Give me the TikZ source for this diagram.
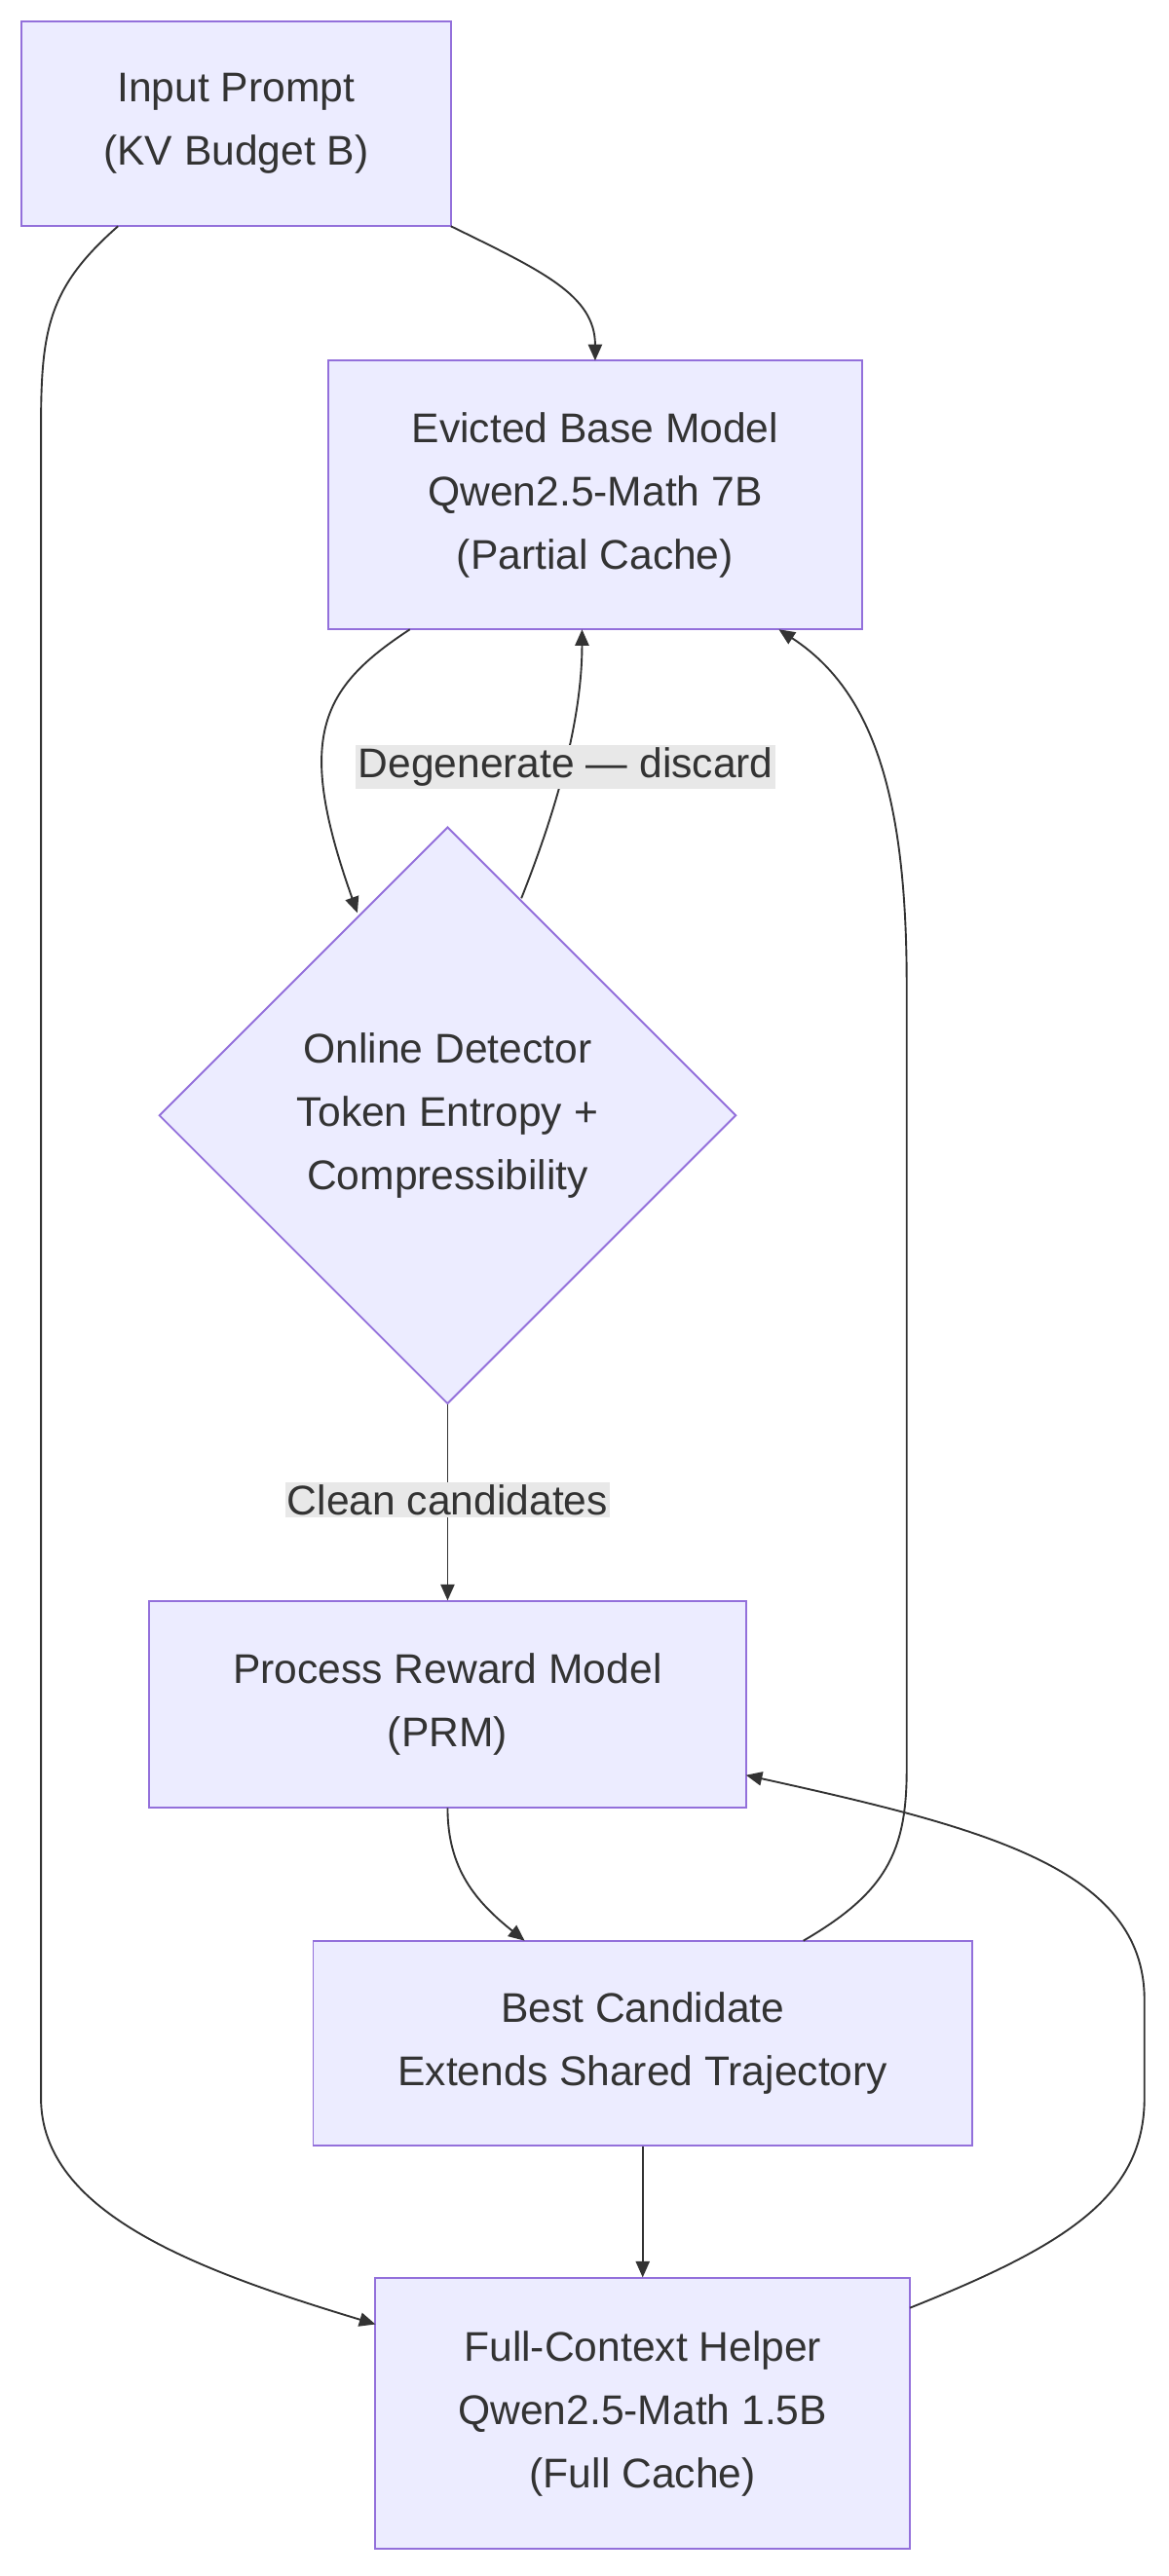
\documentclass[tikz,border=0pt]{standalone}
\usepackage{fontspec}
\setmainfont{Liberation Sans}
\usetikzlibrary{shapes.geometric,arrows.meta}
\definecolor{nfill}{HTML}{ECECFF}
\definecolor{nbord}{HTML}{9370DB}
\definecolor{ln}{HTML}{333333}
\definecolor{lbg}{HTML}{E8E8E8}
\begin{document}
\begin{tikzpicture}[x=0.05cm,y=-0.05cm,
  every node/.style={font=\fontsize{36}{55}\selectfont,text=ln,align=center},
  box/.style={draw=nbord,fill=nfill,line width=1.6pt,inner sep=0pt},
  dia/.style={diamond,draw=nbord,fill=nfill,line width=1.6pt,inner sep=0pt,minimum width=352*0.05cm,minimum height=352*0.05cm},
  lbl/.style={fill=lbg,inner sep=2pt},
  arr/.style={draw=ln,line width=1.6pt,-{Triangle[length=14pt,width=12pt]}}]
\useasboundingbox (0,0) rectangle (713,1571.6);
\node[box,minimum width=262*0.05cm,minimum height=125*0.05cm] (inp) at (144,75.5) {Input Prompt\\(KV Budget B)};
\node[box,minimum width=326*0.05cm,minimum height=164*0.05cm] (ev) at (363,302) {Evicted Base Model\\Qwen2.5-Math 7B\\(Partial Cache)};
\node[dia] (det) at (273,680.5) {Online Detector\\Token Entropy +\\Compressibility};
\node[box,minimum width=364*0.05cm,minimum height=126*0.05cm] (prm) at (273,1040) {Process Reward Model\\(PRM)};
\node[box,minimum width=402*0.05cm,minimum height=125*0.05cm] (best) at (392,1246.5) {Best Candidate\\Extends Shared Trajectory};
\node[box,minimum width=326*0.05cm,minimum height=165*0.05cm] (full) at (392,1472.5) {Full-Context Helper\\Qwen2.5-Math 1.5B\\(Full Cache)};
\coordinate (i1) at (275,138);
\coordinate (i2) at (72,138);
\draw[arr] (i1) .. controls (330,165) and (363,180) .. (363,220);
\draw[arr] (i2) .. controls (30,175) and (25,200) .. (25,260) -- (25,1280) .. controls (25,1350) and (120,1385) .. (229,1418);
\draw[arr] (250,384) .. controls (195,420) and (180,450) .. (218,557);
\draw[arr] (318,548) .. controls (345,480) and (355,430) .. (355,384);
\node[lbl] at (345,468) {Degenerate — discard};
\draw[arr] (det.south) -- (prm.north);
\node[lbl] at (273,915) {Clean candidates};
\draw[arr] (273,1103) .. controls (273,1140) and (290,1160) .. (320,1184);
\draw[arr] (490,1184) .. controls (540,1155) and (553,1130) .. (553,1080) -- (553,600) .. controls (553,480) and (530,420) .. (475,384);
\draw[arr] (best.south) -- (full.north);
\draw[arr] (555,1408) .. controls (650,1370) and (698,1340) .. (698,1280) -- (698,1220) .. controls (698,1140) and (600,1115) .. (455,1083);
\end{tikzpicture}
\end{document}
